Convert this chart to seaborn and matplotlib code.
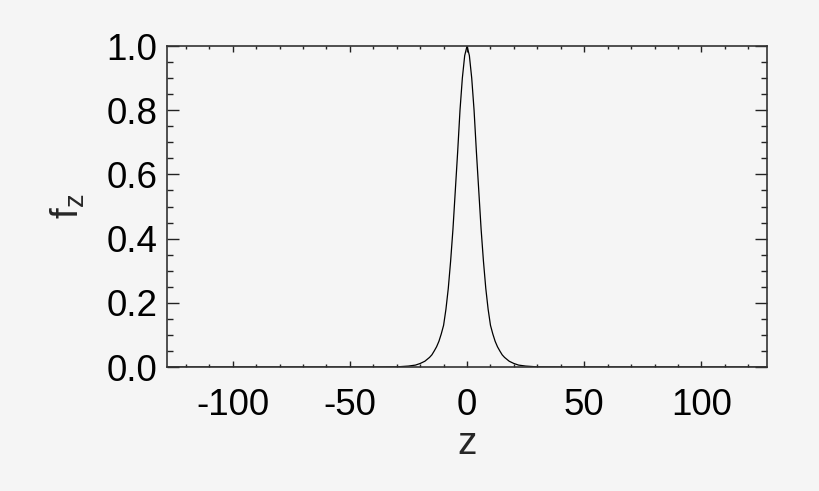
import matplotlib
matplotlib.use("Agg")
import matplotlib.pyplot as plt
from matplotlib.ticker import MultipleLocator, FormatStrFormatter
import seaborn as sns

# Profile (symmetric peak at z = 0)
z_values = [-128, -40, -30, -25, -22, -20, -18, -16, -15, -14, -13, -12, -11,
            -10, -9, -8, -7, -6, -5, -4, -3, -2, -1, 0, 1, 2, 3, 4, 5, 6, 7, 8,
            9, 10, 11, 12, 13, 14, 15, 16, 18, 20, 22, 25, 30, 40, 128]
f_values = [0.0, 0.0, 0.0005, 0.003, 0.006, 0.011, 0.018, 0.03, 0.038, 0.05,
            0.063, 0.08, 0.103, 0.13, 0.18, 0.245, 0.33, 0.43, 0.55, 0.67,
            0.80, 0.90, 0.97, 1.0, 0.97, 0.90, 0.80, 0.67, 0.55, 0.43, 0.33,
            0.245, 0.18, 0.13, 0.103, 0.08, 0.063, 0.05, 0.038, 0.03, 0.018,
            0.011, 0.006, 0.003, 0.0005, 0.0, 0.0]

x_ticks = [-100, -50, 0, 50, 100]
y_ticks = [0.0, 0.2, 0.4, 0.6, 0.8, 1.0]

sns.set_style("ticks")
plt.rcParams["font.family"] = ["Liberation Sans", "DejaVu Sans"]
plt.rcParams["mathtext.default"] = "regular"
plt.rcParams["axes.unicode_minus"] = False

bg = "#f5f5f5"

fig = plt.figure(figsize=(8.2, 4.91), dpi=100, facecolor=bg)
ax = fig.add_axes([0.2037, 0.2525, 0.7317, 0.6538])
ax.set_facecolor(bg)

sns.lineplot(
    x=z_values,
    y=f_values,
    ax=ax,
    color="black",
    linewidth=0.9,
    sort=False
)

ax.set_xlim(-128, 128)
ax.set_ylim(0, 1.0)

ax.set_xticks(x_ticks)
ax.set_yticks(y_ticks)
ax.xaxis.set_minor_locator(MultipleLocator(10))
ax.yaxis.set_minor_locator(MultipleLocator(0.05))
ax.yaxis.set_major_formatter(FormatStrFormatter("%.1f"))

ax.tick_params(axis="both", which="both", direction="in",
               top=True, right=True, colors="#222222", labelcolor="black",
               labelsize=26.5, width=1.0)
ax.tick_params(axis="x", which="major", length=4.6, pad=15)
ax.tick_params(axis="x", which="minor", length=2.3)
ax.tick_params(axis="y", which="major", length=8.6, pad=7)
ax.tick_params(axis="y", which="minor", length=4.3)

for spine in ax.spines.values():
    spine.set_color("#333333")
    spine.set_linewidth(1.2)

ax.set_xlabel("z", fontsize=28, labelpad=2)
ax.set_ylabel(r"$\mathregular{f_z}$", fontsize=28, labelpad=14)

plt.savefig("out.png", dpi=100, facecolor=bg)
plt.close()
